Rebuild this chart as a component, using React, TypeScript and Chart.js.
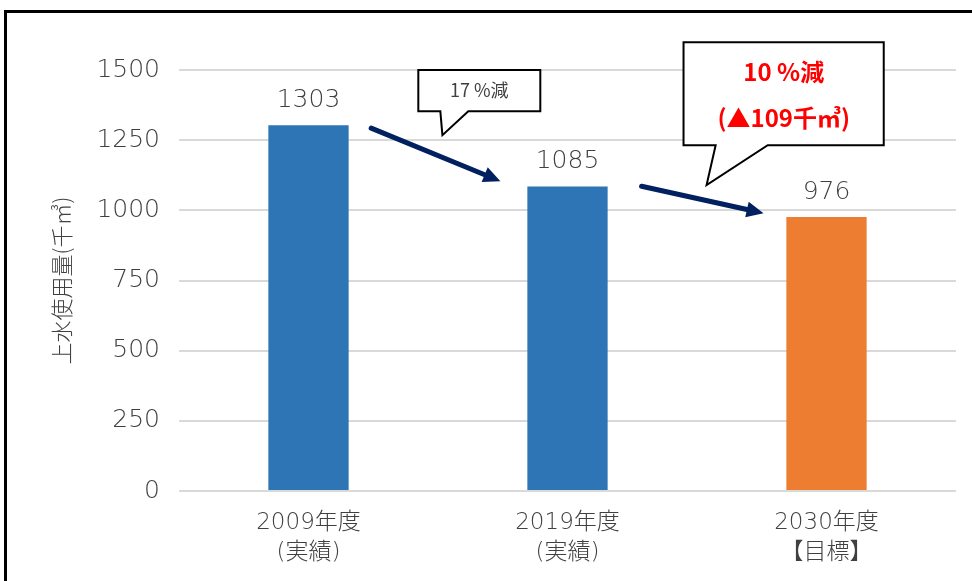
import React, { useEffect, useRef } from "react";
import { Chart, registerables } from "chart.js";

Chart.register(...registerables);

const categories: string[][] = [
  ["2009年度", "(実績)"],
  ["2019年度", "(実績)"],
  ["2030年度", "【目標】"],
];
const values: number[] = [1303, 1085, 976];
const barColors: string[] = ["#2E75B6", "#2E75B6", "#ED7D31"];
const yTicks: number[] = [0, 250, 500, 750, 1000, 1250, 1500];
const yTitle = "上水使用量(千㎥)";
const callout1Text = "17 %減";
const callout2Lines: string[] = ["10 %減", "(▲109千㎥)"];

const TEXT = "#404040";
const NUM_FONT = '"DejaVu Sans", "Noto Sans CJK JP", sans-serif';
const CJK_FONT = '"Noto Sans CJK JP", "DejaVu Sans", sans-serif';

function drawArrow(ctx: CanvasRenderingContext2D, x1: number, y1: number, x2: number, y2: number) {
  const ang = Math.atan2(y2 - y1, x2 - x1);
  const headLen = 17;
  const headHalf = 8;
  const bx = x2 - headLen * Math.cos(ang);
  const by = y2 - headLen * Math.sin(ang);
  ctx.save();
  ctx.strokeStyle = "#002060";
  ctx.fillStyle = "#002060";
  ctx.lineWidth = 5;
  ctx.lineCap = "round";
  ctx.beginPath();
  ctx.moveTo(x1, y1);
  ctx.lineTo(bx, by);
  ctx.stroke();
  ctx.beginPath();
  ctx.moveTo(x2, y2);
  ctx.lineTo(bx + headHalf * Math.sin(ang), by - headHalf * Math.cos(ang));
  ctx.lineTo(bx - headHalf * Math.sin(ang), by + headHalf * Math.cos(ang));
  ctx.closePath();
  ctx.fill();
  ctx.restore();
}

function drawCallout(
  ctx: CanvasRenderingContext2D,
  l: number, t: number, r: number, b: number,
  b1: number, b2: number, tx: number, ty: number
) {
  ctx.save();
  ctx.lineWidth = 2;
  ctx.strokeStyle = "#000";
  ctx.fillStyle = "#fff";
  ctx.lineJoin = "miter";
  ctx.beginPath();
  ctx.moveTo(l, t);
  ctx.lineTo(r, t);
  ctx.lineTo(r, b);
  ctx.lineTo(b2, b);
  ctx.lineTo(tx, ty);
  ctx.lineTo(b1, b);
  ctx.lineTo(l, b);
  ctx.closePath();
  ctx.fill();
  ctx.stroke();
  ctx.restore();
}

const overlayPlugin = {
  id: "overlay",
  afterDraw(chart: any) {
    const ctx: CanvasRenderingContext2D = chart.ctx;
    const xs = chart.scales.x;
    const ys = chart.scales.y;
    const P = (i: number, v: number) => [xs.getPixelForValue(i), ys.getPixelForValue(v)];
    const meta = chart.getDatasetMeta(0);

    // value labels
    ctx.save();
    ctx.font = `300 25px ${NUM_FONT}`;
    ctx.fillStyle = TEXT;
    ctx.textAlign = "center";
    ctx.textBaseline = "middle";
    meta.data.forEach((bar: any, i: number) => {
      ctx.fillText(String(values[i]), bar.x, bar.y - 25);
    });
    ctx.restore();

    // arrows
    {
      const [x1, y1] = P(0.242, 1293);
      const [x2, y2] = P(0.741, 1104);
      drawArrow(ctx, x1, y1, x2, y2);
      const [x3, y3] = P(1.286, 1086);
      const [x4, y4] = P(1.757, 990);
      drawArrow(ctx, x3, y3, x4, y4);
    }

    // callout 1
    {
      const [l, t] = P(0.424, 1500);
      const [r, b] = P(0.895, 1353);
      const [b1] = P(0.509, 0);
      const [b2] = P(0.617, 0);
      const [tx, ty] = P(0.517, 1268);
      drawCallout(ctx, l, t, r, b, b1, b2, tx, ty);
      ctx.save();
      ctx.font = `18px ${CJK_FONT}`;
      ctx.fillStyle = TEXT;
      ctx.textAlign = "center";
      ctx.textBaseline = "middle";
      ctx.fillText(callout1Text, (l + r) / 2, (t + b) / 2);
      ctx.restore();
    }

    // callout 2
    {
      const [l, t] = P(1.448, 1599);
      const [r, b] = P(2.221, 1232);
      const [b1] = P(1.572, 0);
      const [b2] = P(1.773, 0);
      const [tx, ty] = P(1.537, 1090);
      drawCallout(ctx, l, t, r, b, b1, b2, tx, ty);
      ctx.save();
      ctx.font = `bold 24px ${CJK_FONT}`;
      ctx.fillStyle = "#FF0000";
      ctx.textAlign = "center";
      ctx.textBaseline = "middle";
      const [cx, cy1] = P(1.835, 1492);
      const [, cy2] = P(1.835, 1328);
      ctx.fillText(callout2Lines[0], cx, cy1);
      ctx.fillText(callout2Lines[1], cx, cy2);
      ctx.restore();
    }

    // outer frame (left and top edges visible)
    ctx.save();
    ctx.strokeStyle = "#000";
    ctx.lineWidth = 3;
    ctx.beginPath();
    ctx.moveTo(5.5, chart.height + 5);
    ctx.lineTo(5.5, 11.5);
    ctx.lineTo(chart.width + 5, 11.5);
    ctx.stroke();
    ctx.restore();
  },
};

export default function App() {
  const ref = useRef<HTMLCanvasElement | null>(null);
  useEffect(() => {
    if (!ref.current) return;
    const chart = new Chart(ref.current, {
      type: "bar",
      data: {
        labels: categories,
        datasets: [
          {
            data: values,
            backgroundColor: barColors,
            borderWidth: 0,
            barPercentage: 0.31,
            categoryPercentage: 1,
          },
        ],
      },
      options: {
        animation: false,
        responsive: true,
        maintainAspectRatio: false,
        layout: { padding: { left: 0, top: 70, right: 16, bottom: 0 } },
        plugins: { legend: { display: false }, tooltip: { enabled: false }, title: { display: false } },
        scales: {
          x: {
            grid: { display: false, drawTicks: false },
            border: { display: false },
            ticks: {
              color: TEXT,
              font: { family: NUM_FONT, size: 23, weight: 300, lineHeight: 1.3 },
              padding: 17,
              maxRotation: 0,
              autoSkip: false,
            },
            afterFit: (s: any) => {
              s.height = 90;
            },
          },
          y: {
            min: 0,
            max: 1500,
            afterBuildTicks: (s: any) => {
              s.ticks = yTicks.map((v) => ({ value: v }));
            },
            grid: { color: "#D9D9D9", lineWidth: 2, drawTicks: false },
            border: { display: false },
            ticks: {
              color: TEXT,
              font: { family: NUM_FONT, size: 25, weight: 300 },
              padding: 19,
              callback: (v: any) => String(v),
            },
            title: {
              display: true,
              text: yTitle,
              color: TEXT,
              font: { family: CJK_FONT, size: 22, weight: 300 },
              padding: { top: 48, bottom: 0 },
            },
            afterFit: (s: any) => {
              s.width = 179;
            },
          },
        },
      },
      plugins: [overlayPlugin],
    });
    return () => chart.destroy();
  }, []);
  return (
    <div style={{ position: "absolute", left: 0, top: 0, width: 972, height: 581, background: "#fff" }}>
      <canvas ref={ref} />
    </div>
  );
}
